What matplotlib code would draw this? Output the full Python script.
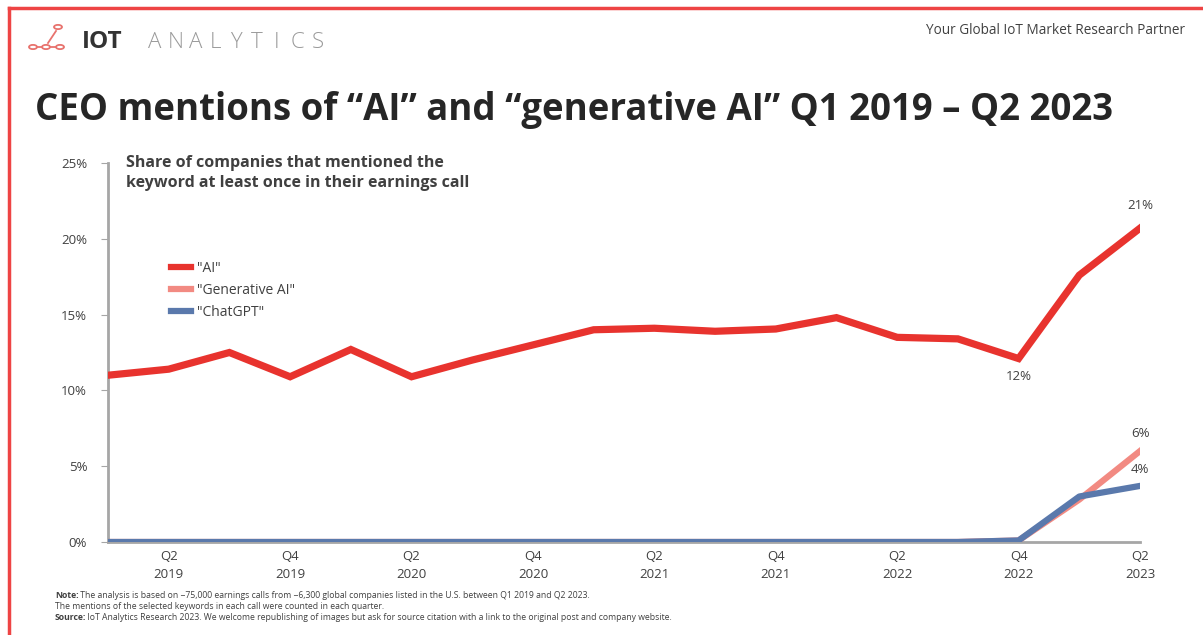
import numpy as np
import matplotlib.pyplot as plt
from matplotlib.lines import Line2D
from matplotlib.patches import Circle

plt.rcParams['font.family'] = ['Open Sans', 'DejaVu Sans']

# Données (part des entreprises, en %)
quarters = ['Q1 2019', 'Q2 2019', 'Q3 2019', 'Q4 2019', 'Q1 2020', 'Q2 2020',
            'Q3 2020', 'Q4 2020', 'Q1 2021', 'Q2 2021', 'Q3 2021', 'Q4 2021',
            'Q1 2022', 'Q2 2022', 'Q3 2022', 'Q4 2022', 'Q1 2023', 'Q2 2023']
ai = [11.0, 11.4, 12.5, 10.9, 12.7, 10.9, 12.0, 13.0, 14.0, 14.1, 13.9, 14.05,
      14.8, 13.5, 13.4, 12.1, 17.6, 20.7]
gen_ai = [0, 0, 0, 0, 0, 0, 0, 0, 0, 0, 0, 0, 0, 0, 0, 0.1, 2.8, 6.0]
chatgpt = [0, 0, 0, 0, 0, 0, 0, 0, 0, 0, 0, 0, 0, 0, 0, 0.1, 3.0, 3.7]
tick_idx = [1, 3, 5, 7, 9, 11, 13, 15, 17]
tick_labels = ['Q2\n2019', 'Q4\n2019', 'Q2\n2020', 'Q4\n2020', 'Q2\n2021',
               'Q4\n2021', 'Q2\n2022', 'Q4\n2022', 'Q2\n2023']
y_ticks = [0, 5, 10, 15, 20, 25]

C_AI = '#E8332E'
C_GEN = '#F28A82'
C_GPT = '#5A79AC'
GREY = '#A6A6A6'
TXT = '#404040'

W, H = 1203, 635
fig = plt.figure(figsize=(W / 100, H / 100), dpi=100)
fig.patch.set_facecolor('white')

# Cadre rouge (haut et gauche)
fig.add_artist(Line2D([9 / W, 9 / W], [0, 1 - 8 / H], color='#EE4444', lw=2.5))
fig.add_artist(Line2D([9 / W, 1], [1 - 8 / H, 1 - 8 / H], color='#EE4444', lw=2.5))

# Axes
ax = fig.add_axes([108 / W, (H - 542) / H, 1032 / W, 379 / H])
x = np.arange(len(quarters))
ax.plot(x, ai, color=C_AI, lw=5.2, solid_joinstyle='miter', zorder=3)
ax.plot(x, gen_ai, color=C_GEN, lw=4.5, zorder=4)
ax.plot(x, chatgpt, color=C_GPT, lw=4.5, zorder=5)

ax.set_xlim(0, len(quarters) - 1)
ax.set_ylim(0, 25)
ax.set_xticks(tick_idx)
ax.set_xticklabels(tick_labels, fontsize=9.5, color=TXT, linespacing=1.45)
ax.set_yticks(y_ticks)
ax.set_yticklabels([f'{v}%' for v in y_ticks], fontsize=9.5, color=TXT)
ax.tick_params(axis='x', length=0, pad=6)
ax.tick_params(axis='y', length=5, color=GREY, pad=10)
for s in ['top', 'right']:
    ax.spines[s].set_visible(False)
ax.spines['left'].set_color(GREY)
ax.spines['left'].set_linewidth(2)
ax.spines['bottom'].set_color(GREY)
ax.spines['bottom'].set_linewidth(2)
ax.patch.set_alpha(0)

# Étiquettes de valeurs
last = len(quarters) - 1
ax.annotate('21%', (last, ai[last]), xytext=(0, 12), textcoords='offset points',
            ha='center', va='bottom', fontsize=9.5, color=TXT)
ax.annotate('12%', (15, ai[15]), xytext=(0, -8), textcoords='offset points',
            ha='center', va='top', fontsize=9.5, color=TXT)
ax.annotate('6%', (last, gen_ai[last]), xytext=(0, 8), textcoords='offset points',
            ha='center', va='bottom', fontsize=9.5, color=TXT)
ax.annotate('4%', (last, chatgpt[last]), xytext=(0, 7), textcoords='offset points',
            ha='center', va='bottom', fontsize=9.5, color=TXT)

# Légende
handles = [Line2D([], [], color=C_AI, lw=4.5),
           Line2D([], [], color=C_GEN, lw=4.5),
           Line2D([], [], color=C_GPT, lw=4.5)]
leg = ax.legend(handles, ['"AI"', '"Generative AI"', '"ChatGPT"'],
                loc='upper left', bbox_to_anchor=(50 / 1032, 294 / 379),
                frameon=False, fontsize=10, handlelength=1.5, handletextpad=0.4,
                labelspacing=0.52, labelcolor=TXT)

# Sous-titre
fig.text(126 / W, 1 - 173 / H,
         'Share of companies that mentioned the\nkeyword at least once in their earnings call',
         fontsize=11.5, fontweight='bold', color=TXT, va='center', linespacing=1.35)

# Titre
fig.text(35 / W, 1 - 110 / H,
         'CEO mentions of \u201cAI\u201d and \u201cgenerative AI\u201d Q1 2019 \u2013 Q2 2023',
         fontsize=26.4, fontweight='bold', color='#262626', va='center')

# Logo
fig.text(82 / W, 1 - 42 / H, 'IOT', fontsize=17.5, fontweight='bold', color='#333333', va='center')
for i, ch in enumerate('ANALYTICS'):
    fig.text((155 + i * 20.3) / W, 1 - 42 / H, ch, fontsize=16, fontweight='light',
             color='#9A9A9A', va='center', ha='center')
icon = '#E8736E'
for (cx, cy) in [(33, 47), (46, 47), (60, 47), (58, 27)]:
    fig.add_artist(Circle((cx / W, 1 - cy / H), 4 / W, transform=fig.transFigure,
                          fill=False, ec=icon, lw=1.3))
fig.add_artist(Line2D([48 / W, 56 / W], [1 - 43 / H, 1 - 31 / H], color=icon, lw=1.3))
fig.add_artist(Line2D([37 / W, 42 / W], [1 - 47 / H, 1 - 47 / H], color=icon, lw=1.3))
fig.add_artist(Line2D([50 / W, 56 / W], [1 - 47 / H, 1 - 47 / H], color=icon, lw=1.3))

fig.text(1185 / W, 1 - 30 / H, 'Your Global IoT Market Research Partner',
         fontsize=9.8, color=TXT, ha='right', va='center')

# Notes de bas de page
notes = [('Note:', ' The analysis is based on ~75,000 earnings calls from ~6,300 global companies listed in the U.S. between Q1 2019 and Q2 2023.'),
         ('', 'The mentions of the selected keywords in each call were counted in each quarter.'),
         ('Source:', ' IoT Analytics Research 2023. We welcome republishing of images but ask for source citation with a link to the original post and company website.')]
renderer = fig.canvas.get_renderer()
for i, (head, body) in enumerate(notes):
    y = 1 - (596 + i * 10.5) / H
    x0 = 55 / W
    if head:
        t = fig.text(x0, y, head, fontsize=6.2, color=TXT, va='center', fontweight='bold')
        x0 += (t.get_window_extent(renderer).width - 1) / W
    fig.text(x0, y, body, fontsize=6.2, color=TXT, va='center')

fig.savefig('out.png', dpi=100)
